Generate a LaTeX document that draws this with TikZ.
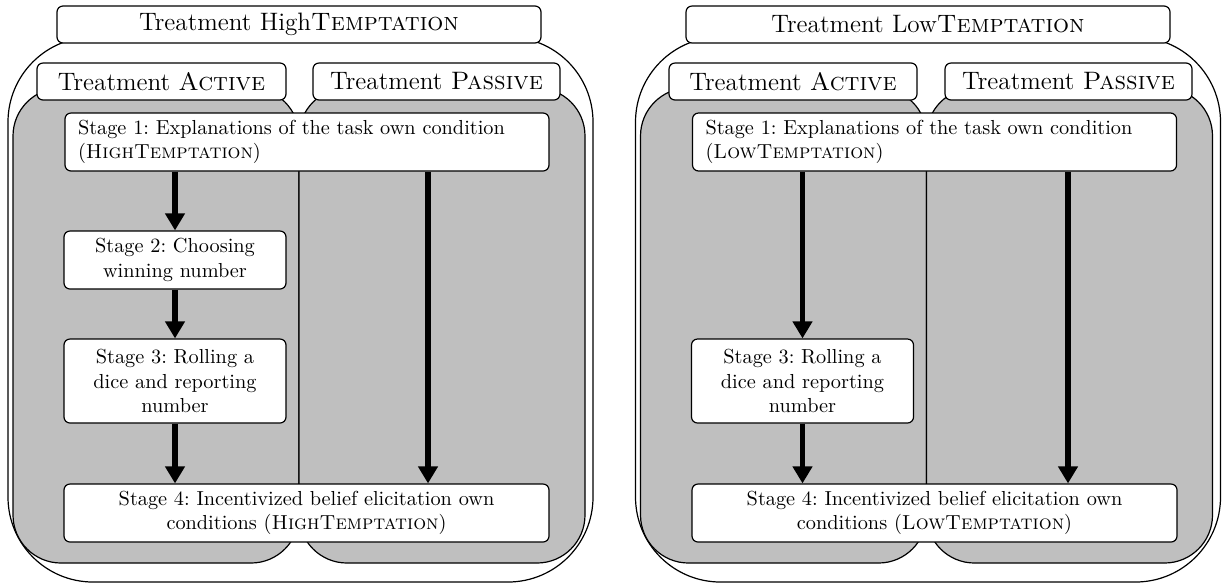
\documentclass[tikz,border=0pt]{standalone}
\usetikzlibrary{arrows.meta}
\frenchspacing
\begin{document}
\begin{tikzpicture}[x=0.5pt,y=-0.5pt,
  line width=0.6pt,
  font=\fontsize{10.15}{12.2}\selectfont\frenchspacing,
  outerbox/.style={draw,fill=white,rounded corners=42.5pt,minimum width=292.5pt,minimum height=272.5pt,inner sep=0pt},
  graybox/.style={draw,fill=lightgray,rounded corners=24pt,minimum width=143pt,minimum height=237.5pt,inner sep=0pt},
  titlebox/.style={draw,fill=white,rounded corners=3pt,minimum height=18.5pt,inner sep=0pt,font=\fontsize{12.6}{15}\selectfont},
  stagebox/.style={draw,fill=white,rounded corners=3pt,inner sep=0pt,align=center},
  stageone/.style={stagebox,align=left,text width=229pt,inner xsep=6.5pt,minimum height=29pt},
  smallstage/.style={stagebox,minimum width=111pt},
  flow/.style={line width=2.8pt,-{Triangle[width=9.5pt,length=8.5pt]}}
]
\useasboundingbox (0,0) rectangle (1224,586);

% ---------------- left panel ----------------
\node[outerbox] (Lout) at (300.5,309.5) {};
\node[graybox] (Lga) at (156,325.5) {};
\node[graybox] (Lgp) at (442,325.5) {};
\node[titlebox,minimum width=242pt] (Lt) at (299,24.5) {Treatment High\textsc{Temptation}};
\node[titlebox,minimum width=124.5pt] (Lta) at (161.5,81.5) {Treatment \textsc{Active}};
\node[titlebox,minimum width=123.5pt] (Ltp) at (436.5,81.5) {Treatment \textsc{Passive}};
\node[stageone] (Ls1) at (307,142) {Stage 1: Explanations of the task own condition\\(\textsc{HighTemptation})};
\node[smallstage,minimum height=29pt] (Ls2) at (175,260) {Stage 2: Choosing\\winning number};
\node[smallstage,minimum height=42pt] (Ls3) at (175,381) {Stage 3: Rolling a\\dice and reporting\\number};
\node[stagebox,minimum width=242.5pt,minimum height=29pt] (Ls4) at (306.5,513) {Stage 4: Incentivized belief elicitation own\\conditions (\textsc{HighTemptation})};
\coordinate (Lpa) at (428,0);
\draw[flow] (Ls1.south -| Ls2.north) -- (Ls2.north);
\draw[flow] (Ls2.south) -- (Ls3.north);
\draw[flow] (Ls3.south) -- (Ls4.north -| Ls3.south);
\draw[flow] (Ls1.south -| Lpa) -- (Ls4.north -| Lpa);

% ---------------- right panel ----------------
\begin{scope}[shift={(627.5,0)}]
\node[outerbox] (Rout) at (300.5,309.5) {};
\node[graybox] (Rga) at (156,325.5) {};
\node[graybox] (Rgp) at (442,325.5) {};
\node[titlebox,minimum width=242pt] (Rt) at (300.5,24.5) {Treatment Low\textsc{Temptation}};
\node[titlebox,minimum width=124pt] (Rta) at (165.5,81.5) {Treatment \textsc{Active}};
\node[titlebox,minimum width=123.5pt] (Rtp) at (441,81.5) {Treatment \textsc{Passive}};
\node[stageone] (Rs1) at (307,142) {Stage 1: Explanations of the task own condition\\(\textsc{LowTemptation})};
\node[smallstage,minimum height=42pt] (Rs3) at (175,381) {Stage 3: Rolling a\\dice and reporting\\number};
\node[stagebox,minimum width=242.5pt,minimum height=29pt] (Rs4) at (307,513) {Stage 4: Incentivized belief elicitation own\\conditions (\textsc{LowTemptation})};
\coordinate (Rpa) at (440.5,0);
\draw[flow] (Rs1.south -| Rs3.north) -- (Rs3.north);
\draw[flow] (Rs3.south) -- (Rs4.north -| Rs3.south);
\draw[flow] (Rs1.south -| Rpa) -- (Rs4.north -| Rpa);
\end{scope}
\end{tikzpicture}
\end{document}
